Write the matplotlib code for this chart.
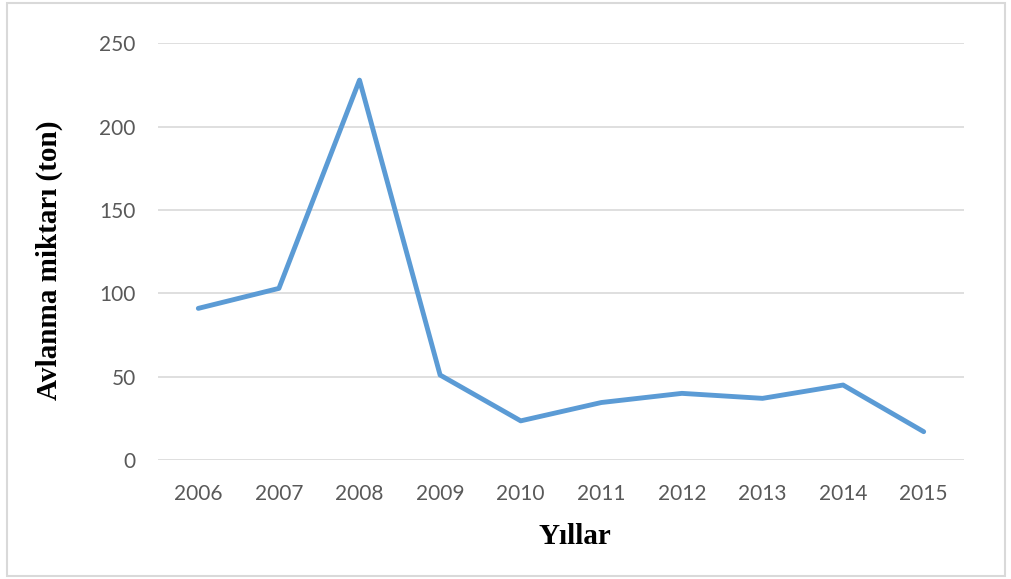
import matplotlib.pyplot as plt
from matplotlib.patches import Rectangle

years = ['2006', '2007', '2008', '2009', '2010', '2011', '2012', '2013', '2014', '2015']
catch_tons = [91, 103, 228, 51, 23.5, 34.5, 40, 37, 45, 17]
y_ticks = [0, 50, 100, 150, 200, 250]

fig = plt.figure(figsize=(10.11, 5.79), dpi=100)
ax = fig.add_axes([0.1563, 0.2055, 0.7972, 0.7195])

x = list(range(len(years)))
ax.plot(x, catch_tons, color='#5B9BD5', linewidth=3.5, solid_capstyle='round',
        solid_joinstyle='round', zorder=3)

ax.set_xlim(-0.5, len(years) - 0.5)
ax.set_ylim(0, 250)
ax.set_yticks(y_ticks)
ax.set_xticks(x)
ax.set_xticklabels(years)

ax.grid(axis='y', color='#d9d9d9', linewidth=1.2)
ax.set_axisbelow(True)
for s in ax.spines.values():
    s.set_visible(False)
ax.tick_params(length=0, labelsize=15, labelcolor='#595959')
ax.tick_params(axis='y', pad=16)
ax.tick_params(axis='x', pad=17)
for lbl in ax.get_xticklabels() + ax.get_yticklabels():
    lbl.set_family('Lato')

fig.text(0.049, 0.55, 'Avlanma miktarı (ton)', rotation=90, ha='center', va='center',
         family='Liberation Serif', fontweight='bold', fontsize=21)
fig.text(0.569, 0.074, 'Yıllar', ha='center', va='center',
         family='Liberation Serif', fontweight='bold', fontsize=21)

# light frame around the chart
fig.patches.append(Rectangle((0.007, 0.005), 0.987, 0.99, transform=fig.transFigure,
                             fill=False, edgecolor='#d9d9d9', linewidth=1.5))

fig.savefig('out.png', dpi=100)
